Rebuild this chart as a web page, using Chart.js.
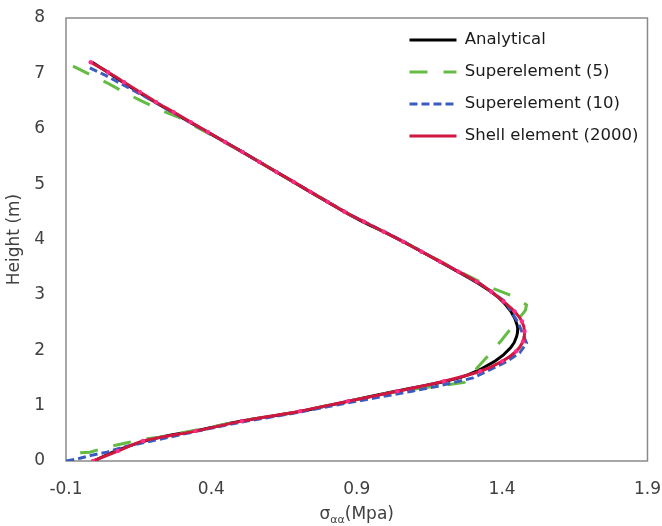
<!DOCTYPE html>
<html>
<head>
<meta charset="utf-8">
<title>Stress vs height</title>
<script src="https://cdn.jsdelivr.net/npm/chart.js@4.4.1/dist/chart.umd.min.js"></script>
<style>
  html, body { margin: 0; padding: 0; background: #ffffff; }
  #wrap { width: 662px; height: 526px; }
</style>
</head>
<body>
<div id="wrap"><canvas id="stressChart"></canvas></div>
<script>
// Values: x = stress (MPa), h = height (m)
const seriesNames = ['Analytical', 'Superelement (5)', 'Superelement (10)', 'Shell element (2000)'];

const analyticalH = [7.2, 6.5, 5.6, 4.45, 4.0, 3.5, 3.2, 2.95, 2.7, 2.45, 2.25, 2.05, 1.8, 1.55, 1.4, 1.25, 1.05, 0.88, 0.72, 0.56, 0.4, 0.2, 0];
const analyticalX = [-0.01, 0.2, 0.5, 0.875, 1.045, 1.22, 1.32, 1.388, 1.43, 1.452, 1.45, 1.43, 1.375, 1.28, 1.17, 1.025, 0.845, 0.69, 0.5, 0.36, 0.2, 0.08, -0.005];

const super5H = [7.13, 6.83, 6.65, 6.5, 6.34, 6.2, 5.6, 4.45, 4.0, 3.5, 3.3, 3.12, 2.97, 2.82, 2.72, 2.18, 1.88, 1.42, 1.37, 1.3, 1.23, 1.07, 0.88, 0.72, 0.57, 0.43, 0.4, 0.33, 0.25, 0.16, 0.13];
const super5X = [-0.076, 0.041, 0.103, 0.161, 0.223, 0.29, 0.5, 0.876, 1.048, 1.225, 1.3, 1.367, 1.44, 1.484, 1.48, 1.398, 1.348, 1.27, 1.2, 1.1, 1.013, 0.862, 0.69, 0.5, 0.36, 0.223, 0.171, 0.11, 0.041, -0.018, -0.1];

const super10H = [7.1, 6.97, 6.84, 6.6, 5.6, 4.45, 4.0, 3.5, 3.2, 2.88, 2.5, 2.13, 1.95, 1.78, 1.5, 1.34, 1.26, 1.05, 0.87, 0.7, 0.55, 0.3, 0.25, 0.16, 0.11, 0.05, 0];
const super10X = [-0.018, 0.034, 0.079, 0.165, 0.5, 0.876, 1.048, 1.222, 1.325, 1.41, 1.455, 1.484, 1.46, 1.41, 1.3, 1.17, 1.09, 0.87, 0.69, 0.5, 0.36, 0.14, 0.096, 0.041, -0.007, -0.052, -0.1];

const shellH = [0, 0.18, 0.36, 0.54, 0.72, 0.9, 1.08, 1.26, 1.44, 1.62, 1.8, 1.98, 2.16, 2.34, 2.52, 2.7, 2.88, 3.06, 3.24, 3.42, 3.6, 3.78, 3.96, 4.14, 4.32, 4.5, 4.68, 4.86, 5.04, 5.22, 5.4, 5.58, 5.76, 5.94, 6.12, 6.3, 6.48, 6.66, 6.84, 7.02, 7.2];
const shellX = [-0.007, 0.078, 0.165, 0.345, 0.505, 0.705, 0.87, 1.04, 1.2, 1.325, 1.4, 1.448, 1.472, 1.477, 1.468, 1.443, 1.405, 1.362, 1.312, 1.25, 1.187, 1.123, 1.06, 0.993, 0.925, 0.858, 0.8, 0.741, 0.683, 0.624, 0.565, 0.507, 0.447, 0.388, 0.329, 0.27, 0.21, 0.155, 0.1, 0.045, -0.015];

const xTickValues = [-0.1, 0.4, 0.9, 1.4, 1.9];
const yTickValues = [0, 1, 2, 3, 4, 5, 6, 7, 8];

const FONT = '"DejaVu Sans", "Liberation Sans", sans-serif';
const TEXT_COLOR = '#404040';

function toPoints(xs, hs) {
  return xs.map((x, i) => ({ x: x, y: hs[i] }));
}

// Excel-style frame round the plot area
const plotFrame = {
  id: 'plotFrame',
  beforeDatasetsDraw(chart) {
    const { ctx, chartArea: a } = chart;
    ctx.save();
    ctx.strokeStyle = '#8a8a8a';
    ctx.lineWidth = 1.5;
    ctx.strokeRect(a.left, a.top, a.right - a.left, a.bottom - a.top);
    ctx.restore();
  }
};

// Move the legend box into the upper right corner of the plot
const legendInPlot = {
  id: 'legendInPlot',
  afterLayout(chart) {
    const lg = chart.legend;
    if (!lg) return;
    const a = chart.chartArea;
    lg.left = a.right - 253.5;
    lg.top = a.top - 1.75;
    lg.right = lg.left + 262;
    lg.bottom = lg.top + 160;
  }
};

// x axis title with the subscript, drawn under the tick labels
const xTitle = {
  id: 'xTitle',
  afterDraw(chart) {
    const { ctx } = chart;
    const xs = chart.scales.x;
    const base = xs.bottom - 7;
    const big = '17px ' + FONT;
    const small = '11px ' + FONT;
    ctx.save();
    ctx.fillStyle = TEXT_COLOR;
    ctx.textBaseline = 'alphabetic';
    ctx.textAlign = 'left';
    ctx.font = big;
    const w1 = ctx.measureText('σ').width;
    const w3 = ctx.measureText('(Mpa)').width;
    ctx.font = small;
    const w2 = ctx.measureText('αα').width;
    let x = (xs.left + xs.right) / 2 - (w1 + w2 + w3) / 2;
    ctx.font = big;
    ctx.fillText('σ', x, base);
    x += w1;
    ctx.font = small;
    ctx.fillText('αα', x, base + 4);
    x += w2;
    ctx.font = big;
    ctx.fillText('(Mpa)', x, base);
    ctx.restore();
  }
};

const hiddenGrid = { display: true, color: 'transparent', tickColor: 'transparent', drawTicks: true };

const ctx = document.getElementById('stressChart').getContext('2d');
new Chart(ctx, {
  type: 'scatter',
  data: {
    datasets: [
      {
        label: seriesNames[0],
        data: toPoints(analyticalX, analyticalH),
        showLine: true,
        borderColor: '#000000',
        borderWidth: 3,
        tension: 0.4,
        pointRadius: 0,
        order: 4
      },
      {
        label: seriesNames[1],
        data: toPoints(super5X, super5H),
        showLine: true,
        borderColor: '#66bb44',
        borderWidth: 3,
        borderDash: [18, 16],
        tension: 0,
        pointRadius: 0,
        order: 3
      },
      {
        label: seriesNames[2],
        data: toPoints(super10X, super10H),
        showLine: true,
        borderColor: '#3a5cbf',
        borderWidth: 3,
        borderDash: [8, 4],
        tension: 0,
        pointRadius: 0,
        order: 2
      },
      {
        label: seriesNames[3],
        data: toPoints(shellX, shellH),
        showLine: true,
        borderColor: '#cf1740',
        borderWidth: 3,
        tension: 0.3,
        pointRadius: 2.2,
        pointBorderWidth: 0,
        pointBackgroundColor: '#ff2d87',
        order: 1
      }
    ]
  },
  options: {
    responsive: true,
    maintainAspectRatio: false,
    animation: false,
    layout: { padding: { top: 18, right: 14, left: 0, bottom: 0 } },
    plugins: {
      tooltip: { enabled: false },
      legend: {
        position: 'chartArea',
        fullSize: false,
        align: 'start',
        labels: {
          usePointStyle: true,
          pointStyle: 'line',
          pointStyleWidth: 47,
          padding: 15.5,
          color: '#1a1a1a',
          font: { family: FONT, size: 16.5 },
          sort: (a, b) => a.datasetIndex - b.datasetIndex,
          generateLabels: chart => Chart.defaults.plugins.legend.labels.generateLabels(chart).map(item => {
            const ds = chart.data.datasets[item.datasetIndex];
            item.strokeStyle = ds.borderColor;
            item.lineWidth = ds.borderWidth;
            item.lineDash = ds.borderDash || [];
            return item;
          })
        }
      }
    },
    scales: {
      x: {
        type: 'linear',
        min: -0.1,
        max: 1.9,
        afterBuildTicks: s => { s.ticks = xTickValues.map(v => ({ value: v })); },
        afterFit: s => { s.height = 65; },
        grid: Object.assign({ tickLength: 17 }, hiddenGrid),
        border: { display: false },
        ticks: {
          padding: 1,
          color: TEXT_COLOR,
          font: { family: FONT, size: 17 },
          maxRotation: 0,
          callback: v => String(Math.round(v * 10) / 10)
        }
      },
      y: {
        type: 'linear',
        min: 0,
        max: 8,
        afterBuildTicks: s => { s.ticks = yTickValues.map(v => ({ value: v })); },
        afterFit: s => { s.width = 66; },
        grid: Object.assign({ tickLength: 18 }, hiddenGrid),
        border: { display: false },
        title: {
          display: true,
          text: 'Height (m)',
          color: TEXT_COLOR,
          font: { family: FONT, size: 17 }
        },
        ticks: {
          padding: 3,
          color: TEXT_COLOR,
          font: { family: FONT, size: 17 }
        }
      }
    }
  },
  plugins: [plotFrame, legendInPlot, xTitle]
});
</script>
</body>
</html>
